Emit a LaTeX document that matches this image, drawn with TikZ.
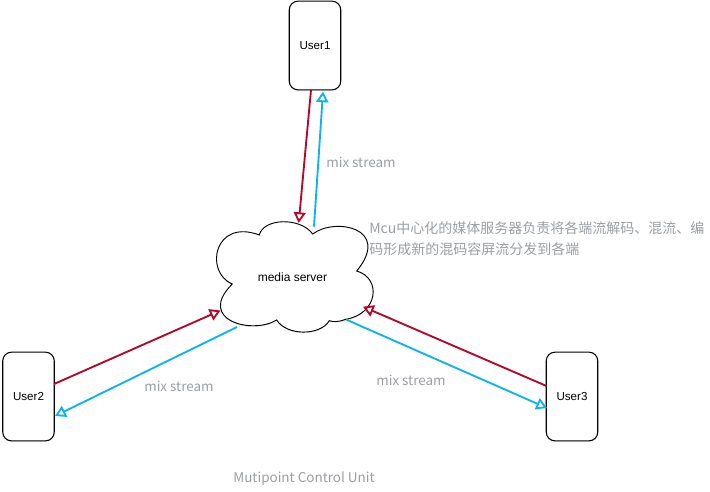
\documentclass[tikz,border=0pt]{standalone}
\usepackage{fontspec}
\setmainfont{Liberation Sans}
\newfontfamily\cjk{Noto Sans CJK SC}
\usepackage{xcolor}
\usetikzlibrary{arrows.meta,positioning,shadows}
\definecolor{sendred}{HTML}{B5062C}
\definecolor{mixblue}{HTML}{0DB3F0}
\definecolor{notegray}{HTML}{9A9EA3}
\tikzset{
  user/.style={draw,rounded corners=6.5pt,minimum width=38.6pt,minimum height=66.5pt,line width=.8pt,fill=white,
    inner sep=0pt,font=\fontsize{8.7}{10}\selectfont,drop shadow={opacity=.22,shadow xshift=0pt,shadow yshift=-.9pt}},
  send/.style={draw=sendred,line width=1.4pt,-{Triangle[open,length=8pt,width=9pt,sendred]}},
  mix/.style={draw=mixblue,line width=1.4pt,-{Triangle[open,length=8pt,width=9pt,mixblue]}},
  note/.style={text=notegray,inner sep=0pt,font=\cjk\fontsize{10.1}{15.75}\selectfont}
}
\begin{document}
\begin{tikzpicture}[x=.75pt,y=-.75pt]
  \useasboundingbox (0,0) rectangle (710,492);
  % the cloud
  \path[draw,line width=.7pt,fill=white,drop shadow={opacity=.22,shadow xshift=0pt,shadow yshift=-.9pt}]
    (259.3,235) .. controls (263.3,218.3) and (300,216.7) .. (312.7,234)
    .. controls (335,217) and (392,228) .. (356.7,271)
    .. controls (382,278.3) and (378,314) .. (345.7,319.3)
    .. controls (340,321.7) and (333.3,322.3) .. (329.3,320.7)
    .. controls (320,336) and (286.7,336) .. (276.7,320)
    .. controls (252,335) and (196,320) .. (232.3,284)
    .. controls (204,272) and (214,218) .. (259.3,235) -- cycle;
  \node[inner sep=0pt,font=\fontsize{9}{11}\selectfont] (server) at (292.5,277) {media server};
  \node[user] (user_1) at (315,45.5) {User1};
  \node[user] (user_2) at (28.5,396.5) {User2};
  \node[user] (user_3) at (572,396.5) {User3};
  % arrow ends
  \coordinate (u1_out) at (311,90);
  \coordinate (u1_in) at (323,91.5);
  \coordinate (u2_out) at (54,384);
  \coordinate (u2_in) at (55,416);
  \coordinate (u3_out) at (546.5,386);
  \coordinate (u3_in) at (547,408);
  \coordinate (s1_in) at (298.7,223);
  \coordinate (s1_out) at (314,226.7);
  \coordinate (s2_in) at (220.5,310.5);
  \coordinate (s2_out) at (237,327);
  \coordinate (s3_in) at (363,306.7);
  \coordinate (s3_out) at (346,319.5);
  \path
    (u1_out) edge[send] (s1_in)
    (s1_out) edge[mix] (u1_in)
    (u2_out) edge[send] (s2_in)
    (s2_out) edge[mix] (u2_in)
    (u3_out) edge[send] (s3_in)
    (s3_out) edge[mix] (u3_in);
  \node[note] (mix_1) at (361,162.5) {mix stream};
  \node[note] (mix_2) at (179,386.5) {mix stream};
  \node[note] (mix_3) at (411,380.5) {mix stream};
  \node[note,anchor=north west,align=left,font=\cjk\fontsize{10.5}{15.75}\selectfont] (mcu_note) at (369,221) {Mcu中心化的媒体服务器负责将各端流解码、混流、编\\码形成新的混码容屏流分发到各端};
  \node[note] (title) at (304,478.5) {Mutipoint Control Unit};
\end{tikzpicture}
\end{document}
